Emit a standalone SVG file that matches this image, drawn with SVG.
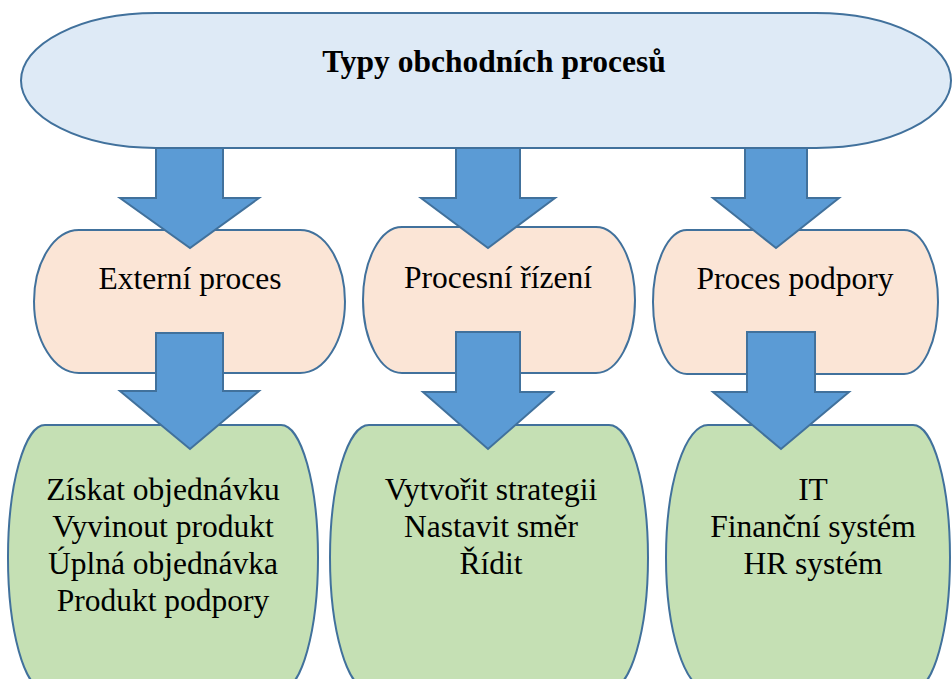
<svg xmlns="http://www.w3.org/2000/svg" width="952" height="679" viewBox="0 0 952 679">
<style>
.top{fill:#DEEAF6;stroke:#41719C;stroke-width:2}
.mid{fill:#FBE5D6;stroke:#41719C;stroke-width:2}
.bot{fill:#C5E0B4;stroke:#41719C;stroke-width:2}
.arr{fill:#5B9BD5;stroke:#41719C;stroke-width:2;stroke-linejoin:miter}
text{font-family:"Liberation Serif","Times New Roman",serif;font-size:31.5px;fill:#000;text-anchor:middle}
.title{font-weight:bold}
</style>
<rect width="952" height="679" fill="#fff"/>
<g id="node-root">
<path class="top" d="M156 13 H816 A135 67.5 0 0 1 816 148 H156 A135 67.5 0 0 1 156 13 Z"/>
<text class="title" x="494" y="72">Typy obchodních procesů</text>
</g>
<g id="node-externi">
<path class="mid" d="M79 230 H300 A45 71.5 0 0 1 300 373 H79 A45 71.5 0 0 1 79 230 Z"/>
<text x="190" y="289">Externí proces</text>
</g>
<g id="node-rizeni">
<path class="mid" d="M402 227 H596 A39 73 0 0 1 596 373 H402 A39 73 0 0 1 402 227 Z"/>
<text x="498" y="288">Procesní řízení</text>
</g>
<g id="node-podpora">
<path class="mid" d="M687 230 H904 A34 72 0 0 1 904 374 H687 A34 72 0 0 1 687 230 Z"/>
<text x="795" y="289">Proces podpory</text>
</g>
<g id="node-externi-list">
<path class="bot" d="M45 425 H281 A37 132.5 0 0 1 281 690 H45 A37 132.5 0 0 1 45 425 Z"/>
<text x="163" y="500">Získat objednávku</text>
<text x="163" y="537">Vyvinout produkt</text>
<text x="163" y="574">Úplná objednávka</text>
<text x="163" y="611">Produkt podpory</text>
</g>
<g id="node-rizeni-list">
<path class="bot" d="M369 425 H609 A39 132.5 0 0 1 609 690 H369 A39 132.5 0 0 1 369 425 Z"/>
<text x="491" y="500">Vytvořit strategii</text>
<text x="491" y="537">Nastavit směr</text>
<text x="491" y="574">Řídit</text>
</g>
<g id="node-podpora-list">
<path class="bot" d="M708 425 H913 A37 132.5 0 0 1 913 690 H708 A42 132.5 0 0 1 708 425 Z"/>
<text x="813" y="500">IT</text>
<text x="813" y="537">Finanční systém</text>
<text x="813" y="574">HR systém</text>
</g>
<g id="connectors">
<polygon class="arr" points="156,148 223,148 223,198 259,198 190,248 120,198 156,198"/>
<polygon class="arr" points="456,148 520,148 520,198 555,198 488,248 421,198 456,198"/>
<polygon class="arr" points="745,148 807,148 807,198 839,198 776,248 713,198 745,198"/>
<polygon class="arr" points="156,333 223,333 223,391 259,391 190,449 120,391 156,391"/>
<polygon class="arr" points="456,332 520,332 520,392 553,392 488,449 423,392 456,392"/>
<polygon class="arr" points="747,332 815,332 815,392 849,392 781,449 713,392 747,392"/>
</g>
</svg>
